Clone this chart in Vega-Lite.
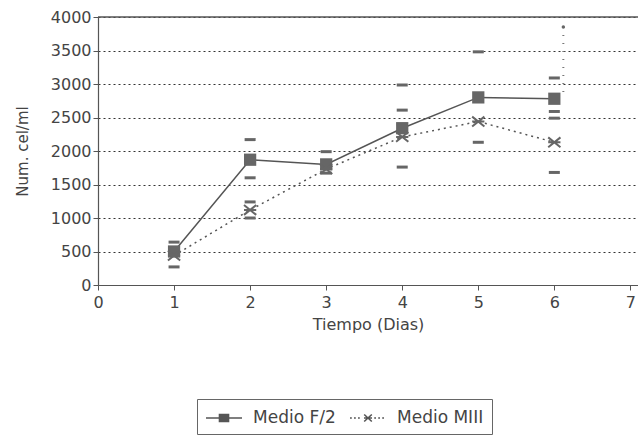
{
  "$schema": "https://vega.github.io/schema/vega-lite/v6.json",
  "width": 540,
  "height": 268,
  "autosize": {"type": "none"},
  "padding": {"left": 98, "top": 17, "right": 0, "bottom": 150},
  "background": "white",
  "config": {
    "font": "DejaVu Sans",
    "view": {"stroke": null},
    "axis": {
      "labelFont": "DejaVu Sans",
      "titleFont": "DejaVu Sans",
      "titleFontWeight": "normal",
      "labelColor": "#444",
      "titleColor": "#444",
      "domainColor": "#555",
      "tickColor": "#555",
      "tickSize": 5,
      "domainWidth": 1.2,
      "labelOverlap": false
    },
    "legend": {
      "labelFont": "DejaVu Sans",
      "labelFontSize": 17,
      "labelColor": "#444"
    }
  },
  "datasets": {
    "means": [
      {"series": "Medio F/2", "day": 1, "value": 500},
      {"series": "Medio F/2", "day": 2, "value": 1870},
      {"series": "Medio F/2", "day": 3, "value": 1800},
      {"series": "Medio F/2", "day": 4, "value": 2340},
      {"series": "Medio F/2", "day": 5, "value": 2800},
      {"series": "Medio F/2", "day": 6, "value": 2780},
      {"series": "Medio MIII", "day": 1, "value": 440},
      {"series": "Medio MIII", "day": 2, "value": 1120},
      {"series": "Medio MIII", "day": 3, "value": 1730},
      {"series": "Medio MIII", "day": 4, "value": 2210},
      {"series": "Medio MIII", "day": 5, "value": 2440},
      {"series": "Medio MIII", "day": 6, "value": 2130}
    ],
    "dashes": [
      {"day": 1, "value": 640},
      {"day": 1, "value": 270},
      {"day": 2, "value": 2170},
      {"day": 2, "value": 1600},
      {"day": 2, "value": 1240},
      {"day": 2, "value": 1000},
      {"day": 3, "value": 1990},
      {"day": 3, "value": 1670},
      {"day": 4, "value": 2985},
      {"day": 4, "value": 2610},
      {"day": 4, "value": 2400},
      {"day": 4, "value": 1760},
      {"day": 5, "value": 3480},
      {"day": 5, "value": 2130},
      {"day": 6, "value": 3090},
      {"day": 6, "value": 2590},
      {"day": 6, "value": 2490},
      {"day": 6, "value": 1680}
    ],
    "whisker": [
      {"day": 6, "low": 2880, "high": 3850}
    ]
  },
  "layer": [
    {
      "data": {"name": "means"},
      "transform": [{"filter": "datum.series == 'Medio F/2'"}],
      "mark": {"type": "line", "color": "#555", "strokeWidth": 1.5},
      "encoding": {
        "x": {
          "field": "day", "type": "quantitative",
          "scale": {"domain": [0, 7.1], "nice": false},
          "axis": {"tickCount": 7, "format": "d", "grid": false, "title": "Tiempo (Dias)", "labelPadding": 4, "titlePadding": 6, "labelFontSize": 16, "titleFontSize": 16, "labelFlush": false}
        },
        "y": {
          "field": "value", "type": "quantitative",
          "scale": {"domain": [0, 4000], "nice": false},
          "axis": {"tickCount": 8, "format": "d", "grid": true, "gridDash": [2, 3], "gridColor": "#333", "gridWidth": 1, "title": "Num. cel/ml", "labelPadding": 2, "titlePadding": 20, "labelFontSize": 16, "titleFontSize": 15, "labelFlush": false}
        }
      }
    },
    {
      "data": {"name": "means"},
      "transform": [{"filter": "datum.series == 'Medio MIII'"}],
      "mark": {"type": "line", "color": "#555", "strokeWidth": 1.5, "strokeDash": [2, 4]},
      "encoding": {
        "x": {"field": "day", "type": "quantitative"},
        "y": {"field": "value", "type": "quantitative"}
      }
    },
    {
      "data": {"name": "dashes"},
      "mark": {"type": "tick", "orient": "horizontal", "color": "#666", "thickness": 3, "size": 11, "opacity": 1},
      "encoding": {
        "x": {"field": "day", "type": "quantitative"},
        "y": {"field": "value", "type": "quantitative"}
      }
    },
    {
      "data": {"name": "whisker"},
      "mark": {"type": "rule", "color": "#777", "strokeDash": [1, 7], "strokeWidth": 2, "xOffset": 9},
      "encoding": {
        "x": {"field": "day", "type": "quantitative"},
        "y": {"field": "low", "type": "quantitative"},
        "y2": {"field": "high"}
      }
    },
    {
      "data": {"name": "whisker"},
      "mark": {"type": "point", "filled": true, "color": "#666", "size": 12, "xOffset": 9, "opacity": 1},
      "encoding": {
        "x": {"field": "day", "type": "quantitative"},
        "y": {"field": "high", "type": "quantitative"}
      }
    },
    {
      "data": {"name": "means"},
      "transform": [{"filter": "datum.series == 'Medio F/2'"}],
      "mark": {"type": "point", "shape": "square", "filled": true, "color": "#666", "size": 150, "opacity": 1},
      "encoding": {
        "x": {"field": "day", "type": "quantitative"},
        "y": {"field": "value", "type": "quantitative"}
      }
    },
    {
      "data": {"name": "means"},
      "transform": [{"filter": "datum.series == 'Medio MIII'"}],
      "mark": {"type": "point", "shape": "M-1,-0.8L1,0.8M-1,0.8L1,-0.8M-1,0L1,0", "filled": false, "color": "#666", "strokeWidth": 2, "size": 150, "opacity": 1},
      "encoding": {
        "x": {"field": "day", "type": "quantitative"},
        "y": {"field": "value", "type": "quantitative"}
      }
    },
    {
      "data": {"name": "means"},
      "mark": {"type": "point", "filled": false, "color": "#666", "opacity": 0},
      "encoding": {
        "x": {"field": "day", "type": "quantitative"},
        "y": {"field": "value", "type": "quantitative"},
        "shape": {
          "field": "series", "type": "nominal", "title": null,
          "scale": {
            "domain": ["Medio F/2", "Medio MIII"],
            "range": [
              "M-1,0L2.6,0M0.35,-0.35L1.25,-0.35L1.25,0.35L0.35,0.35ZM0.35,-0.25L1.25,-0.25M0.35,-0.15L1.25,-0.15M0.35,-0.05L1.25,-0.05M0.35,0.05L1.25,0.05M0.35,0.15L1.25,0.15M0.35,0.25L1.25,0.25",
              "M-1,0L-0.82,0M-0.6,0L-0.42,0M-0.2,0L-0.02,0M0.42,-0.35L1.18,0.35M0.42,0.35L1.18,-0.35M0.4,0L1.2,0M1.42,0L1.6,0M1.82,0L2,0M2.22,0L2.4,0"
            ]
          },
          "legend": {
            "title": null,
            "orient": "none",
            "legendX": 99,
            "legendY": 382,
            "direction": "horizontal",
            "strokeColor": "#666",
            "padding": 8,
            "symbolSize": 400,
            "symbolOpacity": 1,
            "symbolFillColor": "#666",
            "symbolStrokeColor": "#555",
            "symbolStrokeWidth": 1.6,
            "columnPadding": 10,
            "labelOffset": 26
          }
        }
      }
    },
    {
      "data": {"values": [{"top": 4000}]},
      "mark": {"type": "rule", "color": "#555", "strokeWidth": 1.5},
      "encoding": {"y": {"field": "top", "type": "quantitative"}}
    }
  ]
}
